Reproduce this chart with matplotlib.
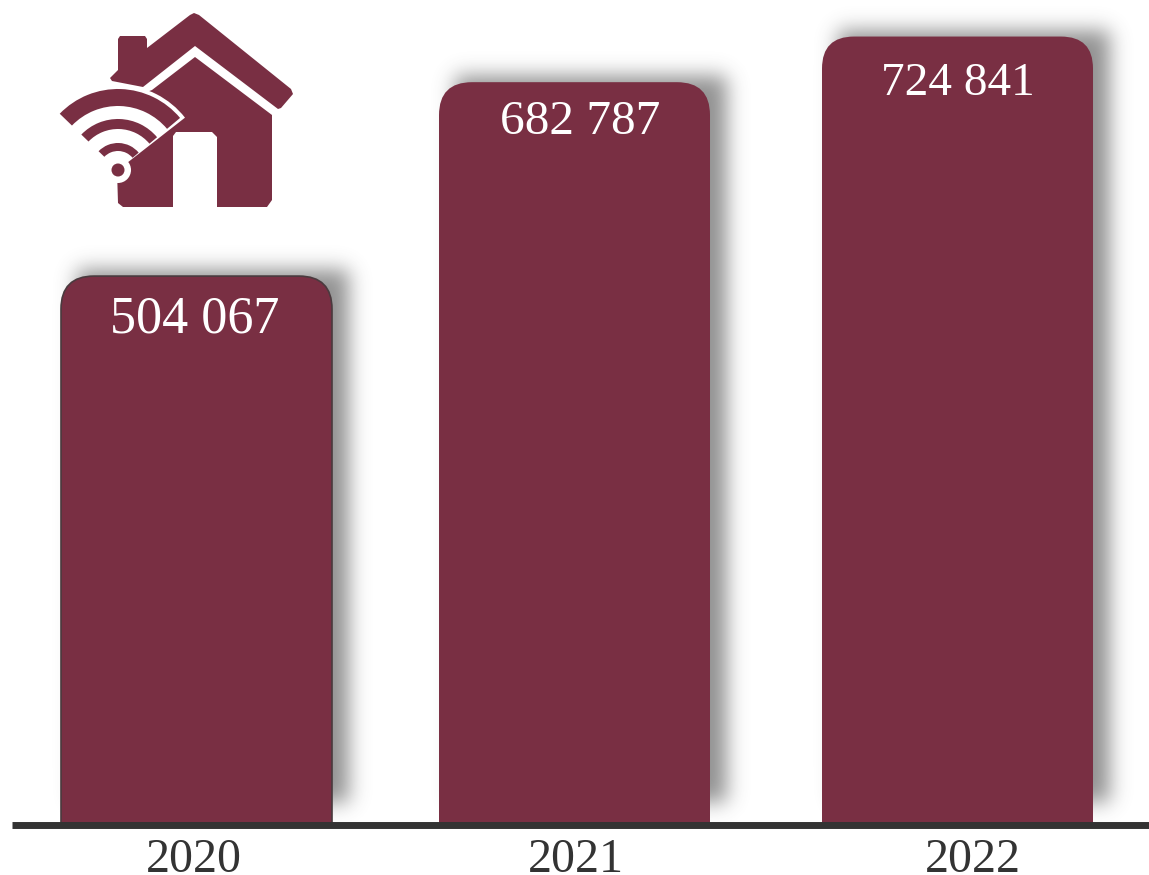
import numpy as np
import matplotlib
matplotlib.use("Agg")
import matplotlib.pyplot as plt
from matplotlib.patches import FancyBboxPatch, Polygon, Wedge, Circle, Rectangle
from math import erf

# ----------------------------
# Data
# ----------------------------
years = ["2020", "2021", "2022"]
values = [504067, 682787, 724841]

# ----------------------------
# Layout (pixels of a 1149x875 canvas)
# ----------------------------
W, H = 1149, 875
BASE_Y = 823
PX_PER_UNIT = 0.001085
BAR_LEFT = [61, 439, 822]
BAR_WIDTH = 271
CORNER = [33, 33, 32]
BAR_EDGE = ["#4a3a3e", "none", "none"]
VALUE_X = [195, 580, 958]
VALUE_DROP = [43, 40, 47]
VALUE_SIZE = [37.5, 35.5, 34]
YEAR_X = [194, 576, 973]

BAR_COLOR = "#792F43"
DARK = "#333333"


def to_px_units(px):
    return px / PX_PER_UNIT


def draw_shadow(ax, left, width, value):
    # blurred rectangle, a bit to the right of the bar
    sigma = 10.0
    x0, x1 = left + 16, left + width + 17
    y0, y1 = value + to_px_units(7), to_px_units(20)
    xs = np.arange(x0 - 45, x1 + 45)
    ys = np.linspace(y0 + to_px_units(45), y1 - to_px_units(45), 400)
    step = np.vectorize(erf)
    fx = 0.5 * (step((xs - x0) / (sigma * 1.414)) - step((xs - x1) / (sigma * 1.414)))
    fy = 0.5 * (step((y0 - ys) * PX_PER_UNIT / (sigma * 1.414))
                - step((y1 - ys) * PX_PER_UNIT / (sigma * 1.414)))
    alpha = np.outer(fy, fx) * 0.62
    img = np.zeros(alpha.shape + (4,))
    img[..., :3] = 0.3
    img[..., 3] = alpha
    ax.imshow(img, extent=(xs[0], xs[-1], ys[-1], ys[0]), aspect="auto",
              origin="upper", zorder=1, interpolation="bilinear")


def draw_icon(ax):
    # roof with chimney
    ax.add_patch(Polygon(
        [(190, 15), (194, 13), (199, 15), (291, 89), (293, 94), (281, 108), (278, 109),
         (195, 46), (143, 87), (112, 81), (110, 78), (118, 70), (118, 39), (120, 36),
         (145, 36), (147, 39), (147, 48)],
        closed=True, color=BAR_COLOR, lw=0, zorder=5))
    # house body
    ax.add_patch(Polygon(
        [(195, 57), (272, 115), (272, 200), (267, 207), (217, 207), (217, 137), (212, 132),
         (176, 132), (173, 136), (173, 207), (123, 207), (118, 203), (117, 170), (100, 110),
         (152, 90)],
        closed=True, color=BAR_COLOR, lw=0, zorder=5))
    # wifi, inverted y so "up" is 270 degrees
    c = (118, 170)
    ax.add_patch(Wedge(c, 85, 222, 322, color="white", lw=0, zorder=6))
    ax.add_patch(Circle(c, 13, color="white", lw=0, zorder=6))
    for r_out, r_in in [(81, 64), (51, 41), (27, 19)]:
        ax.add_patch(Wedge(c, r_out, 224, 320, width=r_out - r_in,
                           color=BAR_COLOR, lw=0, zorder=7))
    ax.add_patch(Circle(c, 6.5, color=BAR_COLOR, lw=0, zorder=7))


fig = plt.figure(figsize=(W / 100, H / 100), dpi=100)
ax = fig.add_axes([0, 0, 1, 1])

for left, value, corner, edge in zip(BAR_LEFT, values, CORNER, BAR_EDGE):
    draw_shadow(ax, left, BAR_WIDTH, value)

    # rounded box pushed below the baseline and clipped, so only the top is round
    bar = FancyBboxPatch(
        (left + corner, -to_px_units(60)),
        BAR_WIDTH - 2 * corner,
        value + to_px_units(60) - to_px_units(corner),
        boxstyle=f"round,pad={corner},rounding_size={corner}",
        mutation_aspect=1 / PX_PER_UNIT,
        facecolor=BAR_COLOR, edgecolor=edge, lw=1.2, zorder=2,
    )
    ax.add_patch(bar)
    bar.set_clip_path(Rectangle((0, 0), W, to_px_units(H), transform=ax.transData))

ax.set_xlim(0, W)
ax.set_ylim(-to_px_units(H - BASE_Y), to_px_units(BASE_Y))
ax.axis("off")

# baseline
ax.plot([12, W], [-to_px_units(1.5), -to_px_units(1.5)], color=DARK, lw=5,
        solid_capstyle="butt", zorder=3)

# labels
for x, value, drop, size in zip(VALUE_X, values, VALUE_DROP, VALUE_SIZE):
    ax.text(x, value - to_px_units(drop), f"{value:,}".replace(",", " "),
            color="white", fontsize=size, family="Liberation Serif",
            ha="center", va="center", zorder=4)

for x, year in zip(YEAR_X, years):
    ax.text(x, -to_px_units(37), year, color=DARK, fontsize=34.5,
            family="Liberation Serif", ha="center", va="center", zorder=4)

# icon on an overlay in pixel coordinates
icon_ax = fig.add_axes([0, 0, 1, 1])
icon_ax.set_xlim(0, W)
icon_ax.set_ylim(H, 0)
icon_ax.axis("off")
icon_ax.patch.set_alpha(0)
draw_icon(icon_ax)

fig.savefig("out.png", dpi=100)
plt.close(fig)
